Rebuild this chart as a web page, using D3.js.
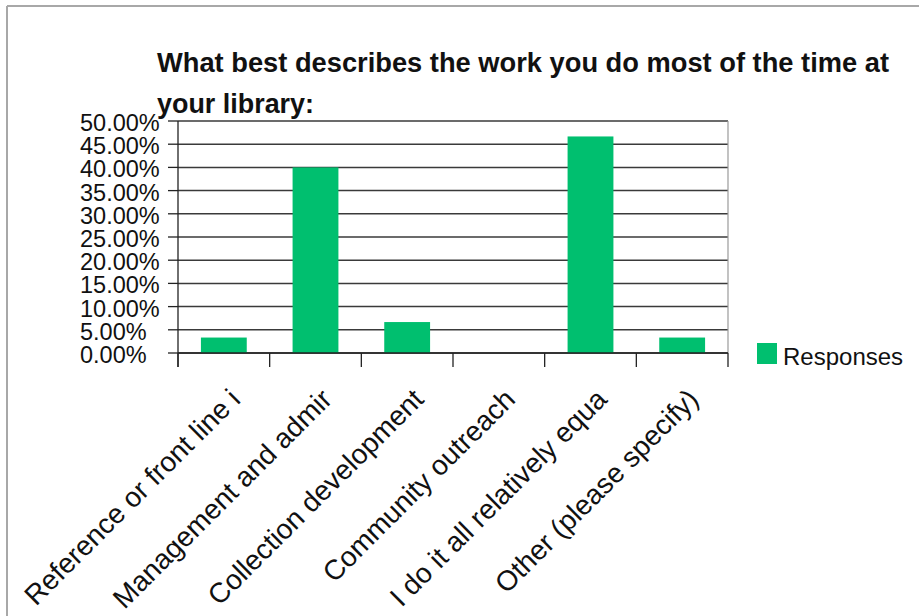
<!DOCTYPE html>
<html>
<head>
<meta charset="utf-8">
<script src="https://cdn.jsdelivr.net/npm/d3@7"></script>
<style>
  html, body { margin: 0; padding: 0; background: #fff; }
  svg { display: block; }
  text { font-family: "Liberation Sans", Arial, sans-serif; fill: #111; }
</style>
</head>
<body>
<svg id="chart" width="919" height="616"></svg>
<script>
// Survey question and answer shares
const titleLines = ["What best describes the work you do most of the time at", "your library:"];
const categories = [
  "Reference or front line i",
  "Management and admir",
  "Collection development",
  "Community outreach",
  "I do it all relatively equa",
  "Other (please specify)"
];
const responses = [0.0333, 0.40, 0.0667, 0.0, 0.4667, 0.0333];
const yTicks = [0, 0.05, 0.10, 0.15, 0.20, 0.25, 0.30, 0.35, 0.40, 0.45, 0.50];
const seriesName = "Responses";

const svg = d3.select("#chart");
const W = 919, H = 616;
const plot = { left: 178, right: 728, top: 121, bottom: 353 };
const barColor = "#00bf6f";

// outer frame (top and left edges visible)
svg.append("line").attr("x1", 7).attr("x2", W).attr("y1", 6).attr("y2", 6)
  .attr("stroke", "#a8a8a8").attr("stroke-width", 2);
svg.append("line").attr("x1", 7).attr("x2", 7).attr("y1", 6).attr("y2", H)
  .attr("stroke", "#a8a8a8").attr("stroke-width", 2);

const x = d3.scaleBand().domain(categories).range([plot.left, plot.right]).paddingInner(0).paddingOuter(0);
const y = d3.scaleLinear().domain([0, 0.5]).range([plot.bottom, plot.top]);
const fmt = d3.format(".2%");

// horizontal gridlines
svg.append("g").selectAll("line").data(yTicks).join("line")
  .attr("x1", plot.left).attr("x2", plot.right)
  .attr("y1", d => y(d)).attr("y2", d => y(d))
  .attr("stroke", "#3a3a3a").attr("stroke-width", 1.5);

// right edge of plot area
svg.append("line").attr("x1", plot.right).attr("x2", plot.right)
  .attr("y1", plot.top).attr("y2", plot.bottom)
  .attr("stroke", "#9a9a9a").attr("stroke-width", 1.2);

// bars
const barW = x.bandwidth() * 0.5;
svg.append("g").selectAll("rect").data(categories).join("rect")
  .attr("x", d => x(d) + (x.bandwidth() - barW) / 2)
  .attr("width", barW)
  .attr("y", (d, i) => y(responses[i]))
  .attr("height", (d, i) => y(0) - y(responses[i]))
  .attr("fill", barColor);

// y axis line and ticks
svg.append("line").attr("x1", plot.left).attr("x2", plot.left)
  .attr("y1", plot.top).attr("y2", plot.bottom + 14)
  .attr("stroke", "#222").attr("stroke-width", 1.3);
svg.append("g").selectAll("line").data(yTicks).join("line")
  .attr("x1", plot.left - 10).attr("x2", plot.left)
  .attr("y1", d => y(d)).attr("y2", d => y(d))
  .attr("stroke", "#222").attr("stroke-width", 1.3);
svg.append("g").selectAll("text").data(yTicks).join("text")
  .attr("x", 80).attr("y", d => y(d) + 10)
  .attr("font-size", 23.5)
  .text(d => fmt(d));

// x axis line and ticks at band edges
svg.append("line").attr("x1", plot.left).attr("x2", plot.right)
  .attr("y1", plot.bottom).attr("y2", plot.bottom)
  .attr("stroke", "#222").attr("stroke-width", 1.5);
const edges = categories.map(c => x(c)).concat([plot.right]);
svg.append("g").selectAll("line").data(edges).join("line")
  .attr("x1", d => d).attr("x2", d => d)
  .attr("y1", plot.bottom).attr("y2", plot.bottom + 14)
  .attr("stroke", "#222").attr("stroke-width", 1.3);

// rotated category labels
svg.append("g").selectAll("text").data(categories).join("text")
  .attr("transform", d => `translate(${x(d) + x.bandwidth() / 2 + 18},${plot.bottom + 48}) rotate(-45)`)
  .attr("text-anchor", "end")
  .attr("font-size", 28)
  .text(d => d);

// title
const title = svg.append("g").attr("font-weight", "bold");
title.append("text").attr("x", 157).attr("y", 72).attr("font-size", 27).attr("font-weight", "bold")
  .attr("textLength", 732).attr("lengthAdjust", "spacingAndGlyphs").text(titleLines[0]);
title.append("text").attr("x", 157).attr("y", 113).attr("font-size", 27).attr("font-weight", "bold")
  .attr("textLength", 157).attr("lengthAdjust", "spacingAndGlyphs").text(titleLines[1]);

// legend
const lg = svg.append("g").attr("transform", "translate(757,343)");
lg.append("rect").attr("width", 20).attr("height", 21).attr("fill", barColor);
lg.append("text").attr("x", 26).attr("y", 22).attr("font-size", 24).text(seriesName);
</script>
</body>
</html>
